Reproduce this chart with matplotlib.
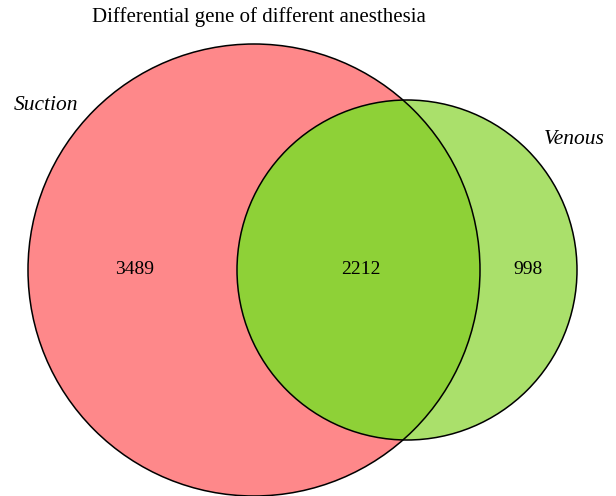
import matplotlib.pyplot as plt
from matplotlib.patches import Circle

# data
set_names = ["Suction", "Venous"]
counts = [3489, 2212, 998]   # only Suction, both, only Venous
title = "Differential gene of different anesthesia"

plt.rcParams['font.family'] = ['Liberation Serif', 'DejaVu Serif']

fig = plt.figure(figsize=(6.16, 4.96), dpi=100)
ax = fig.add_axes([0, 0, 1, 1])
ax.set_xlim(0, 616)
ax.set_ylim(496, 0)
ax.set_aspect('equal')
ax.axis('off')

# circle geometry (pixel units)
c1, r1 = (254, 270), 226
c2, r2 = (407, 270), 170

big = Circle(c1, r1, facecolor='#fe888a', edgecolor='none', zorder=1)
small = Circle(c2, r2, facecolor='#aae06b', edgecolor='none', zorder=2)
ax.add_patch(big)
ax.add_patch(small)

# overlap area: small circle clipped to the big one
inter = Circle(c2, r2, facecolor='#8ed137', edgecolor='none', zorder=3)
ax.add_patch(inter)
inter.set_clip_path(Circle(c1, r1, transform=ax.transData))

# outlines
ax.add_patch(Circle(c1, r1, fill=False, edgecolor='black', lw=1.1, zorder=4))
ax.add_patch(Circle(c2, r2, fill=False, edgecolor='black', lw=1.1, zorder=4))

# counts
ax.text(135, 270, str(counts[0]), ha='center', va='center', fontsize=14, zorder=5)
ax.text(361, 270, str(counts[1]), ha='center', va='center', fontsize=14, zorder=5)
ax.text(528, 270, str(counts[2]), ha='center', va='center', fontsize=14, zorder=5)

# set labels
ax.text(14, 105, set_names[0], ha='left', va='center', fontsize=15.5, style='italic')
ax.text(605, 139, set_names[1], ha='right', va='center', fontsize=15.5, style='italic')

ax.text(259, 17, title, ha='center', va='center', fontsize=15)

fig.savefig("out.png", dpi=100)
